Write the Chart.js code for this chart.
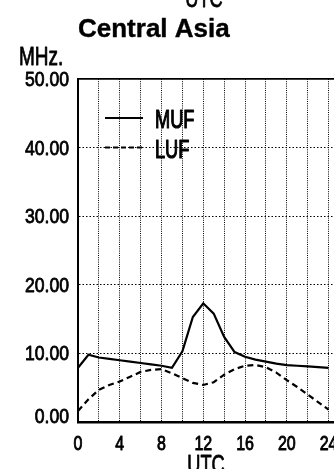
<!DOCTYPE html>
<html>
<head>
<meta charset="utf-8">
<script src="https://cdn.jsdelivr.net/npm/chart.js@4.4.1/dist/chart.umd.min.js"></script>
<style>
  html, body { margin: 0; padding: 0; background: #fff; overflow: hidden; width: 334px; height: 469px; }
  #wrap { position: absolute; left: 0; top: 0; width: 339px; height: 469px; }
</style>
</head>
<body>
<div id="wrap"><canvas id="chart"></canvas></div>
<script>
// Hour of day (UTC)
const hours = [0, 1, 2, 3, 4, 5, 6, 7, 8, 9, 10, 11, 12, 13, 14, 15, 16, 17, 18, 19, 20, 21, 22, 23, 24];
// Maximum usable frequency, MHz
const mufValues = [7.9, 9.8, 9.4, 9.2, 9.0, 8.8, 8.6, 8.4, 8.2, 7.9, 10.3, 15.3, 17.3, 15.8, 12.4, 10.2, 9.5, 9.1, 8.8, 8.5, 8.3, 8.2, 8.1, 8.0, 7.9];
// Lowest usable frequency, MHz
const lufValues = [1.6, 3.3, 4.7, 5.4, 5.9, 6.6, 7.3, 7.6, 7.7, 7.1, 6.4, 5.7, 5.4, 5.8, 6.9, 7.7, 8.2, 8.3, 8.0, 7.2, 6.1, 5.1, 4.0, 2.9, 1.8];
// Axis ticks
const gridHours = [0, 2, 4, 6, 8, 10, 12, 14, 16, 18, 20, 22, 24];
const hourLabels = [0, 4, 8, 12, 16, 20, 24];
const freqTicks = [0, 10, 20, 30, 40, 50];

const FONT = '"Liberation Sans", Arial, Helvetica, sans-serif';

// Draw text squeezed horizontally by factor sx, with an optional outline to thicken strokes
function drawText(ctx, s, x, y, size, sx, align, bold, weight) {
  ctx.save();
  ctx.font = (bold ? 'bold ' : '') + size + 'px ' + FONT;
  ctx.textBaseline = 'alphabetic';
  ctx.textAlign = 'left';
  const w = ctx.measureText(s).width * sx;
  const left = align === 'center' ? x - w / 2 : align === 'right' ? x - w : x;
  ctx.translate(left, y);
  ctx.scale(sx, 1);
  ctx.fillStyle = '#000';
  ctx.fillText(s, 0, 0);
  if (weight) {
    ctx.strokeStyle = '#000';
    ctx.lineWidth = weight;
    ctx.lineJoin = 'round';
    ctx.strokeText(s, 0, 0);
  }
  ctx.restore();
}

const labelsPlugin = {
  id: 'labels',
  afterDraw(chart) {
    const ctx = chart.ctx;
    const xs = chart.scales.x, ys = chart.scales.y;
    const area = chart.chartArea;

    // Titles
    drawText(ctx, 'UTC', 204, 7, 26, 0.7, 'center', false, 0.8);
    drawText(ctx, 'Central Asia', 78, 37, 26, 1.0, 'left', true, 0.4);
    drawText(ctx, 'MHz.', 19, 65, 25, 0.76, 'left', false, 0.8);

    // Frequency tick labels
    freqTicks.forEach(v => {
      const py = ys.getPixelForValue(v);
      drawText(ctx, v.toFixed(2), 69, Math.min(py + 7, area.bottom + 1), 20, 0.88, 'right', false, 0.8);
    });

    // Hour tick labels
    hourLabels.forEach(h => {
      drawText(ctx, String(h), xs.getPixelForValue(h), 450, 20, 0.8, 'center', false, 0.9);
    });
    drawText(ctx, 'UTC', 206, 473, 26, 0.7, 'center', false, 0.8);

    // Legend
    ctx.save();
    ctx.strokeStyle = '#000';
    ctx.lineWidth = 2;
    ctx.beginPath();
    ctx.moveTo(105, 118); ctx.lineTo(143, 118);
    ctx.stroke();
    ctx.setLineDash([5, 3]);
    ctx.beginPath();
    ctx.moveTo(105, 147.5); ctx.lineTo(143, 147.5);
    ctx.stroke();
    ctx.restore();
    drawText(ctx, 'MUF', 155, 128, 26, 0.7, 'left', false, 1.2);
    drawText(ctx, 'LUF', 155, 158, 26, 0.7, 'left', false, 1.2);
  }
};

new Chart(document.getElementById('chart'), {
  type: 'line',
  data: {
    datasets: [
      {
        label: 'MUF',
        data: hours.map((h, i) => ({ x: h, y: mufValues[i] })),
        borderColor: '#000',
        borderWidth: 2.2,
        pointRadius: 0,
        tension: 0,
        fill: false
      },
      {
        label: 'LUF',
        data: hours.map((h, i) => ({ x: h, y: lufValues[i] })),
        borderColor: '#000',
        borderWidth: 2.2,
        borderDash: [6, 4],
        pointRadius: 0,
        tension: 0,
        fill: false
      }
    ]
  },
  options: {
    responsive: true,
    maintainAspectRatio: false,
    animation: false,
    events: [],
    layout: { padding: { top: 79, left: 0, right: 0, bottom: 0 } },
    plugins: { legend: { display: false }, tooltip: { enabled: false }, title: { display: false } },
    scales: {
      x: {
        type: 'linear',
        min: 0,
        max: 25,
        afterBuildTicks: s => { s.ticks = gridHours.map(v => ({ value: v })); },
        afterFit: s => { s.height = 47; },
        ticks: { display: false },
        grid: { color: '#000', lineWidth: 1, drawTicks: false, tickLength: 0 },
        border: { display: true, color: '#000', width: 2.5, dash: [1, 1.2] }
      },
      y: {
        min: 0,
        max: 50,
        afterBuildTicks: s => { s.ticks = freqTicks.map(v => ({ value: v })); },
        afterFit: s => { s.width = 78; },
        ticks: { display: false },
        grid: {
          color: '#000',
          lineWidth: c => (c.tick && c.tick.value === 50 ? 1.8 : 1),
          drawTicks: false,
          tickLength: 0
        },
        border: {
          display: true,
          color: '#000',
          width: 2,
          dash: c => (c.tick && c.tick.value === 50 ? [] : [1.5, 2])
        }
      }
    }
  },
  plugins: [labelsPlugin]
});
</script>
</body>
</html>
